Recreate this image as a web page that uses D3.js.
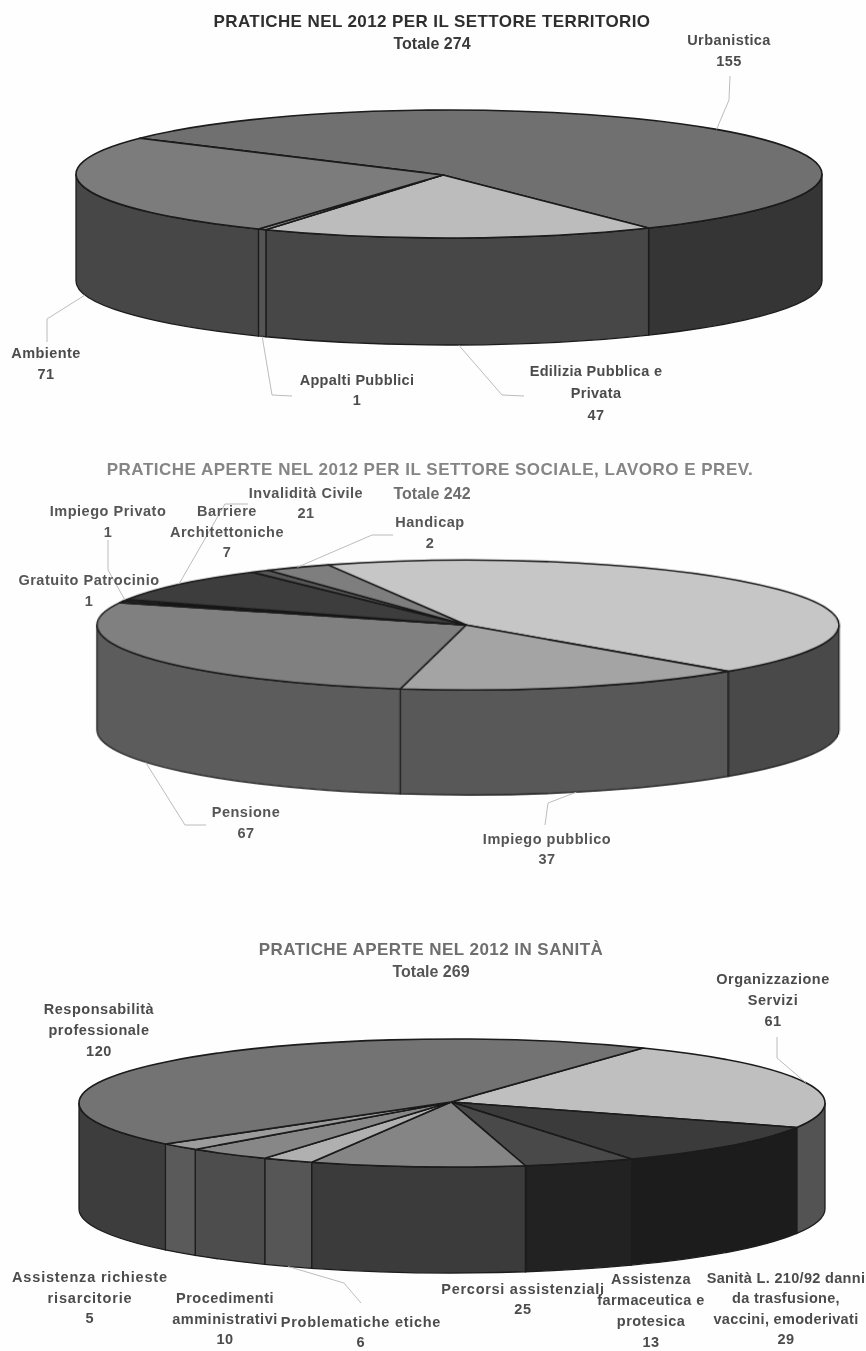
<!DOCTYPE html>
<html><head><meta charset="utf-8">
<script src="https://cdn.jsdelivr.net/npm/d3@7"></script>
<style>html,body{margin:0;padding:0;background:#fefefe}svg{display:block}
text{font-family:"Liberation Sans",Arial,sans-serif;font-weight:bold}</style>
</head><body><div id="c"></div>
<script>
// ---- data ----
const territorioNames  = ["Urbanistica","Edilizia Pubblica e Privata","Appalti Pubblici","Ambiente"];
const territorioValues = [155,47,1,71];
const socialeNames  = ["(senza etichetta)","Impiego pubblico","Pensione","Gratuito Patrocinio","Impiego Privato","Invalidità Civile","Handicap","Barriere Architettoniche"];
const socialeValues = [106,37,67,1,1,21,2,7];
const sanitaNames  = ["Organizzazione Servizi","Sanità L. 210/92 danni da trasfusione, vaccini, emoderivati","Assistenza farmaceutica e protesica","Percorsi assistenziali","Problematiche etiche","Procedimenti amministrativi","Assistenza richieste risarcitorie","Responsabilità professionale"];
const sanitaValues = [61,29,13,25,6,10,5,120];

// ---- styles ----
const territorioTop  = ["#707070","#bcbcbc","#8a8a8a","#7b7b7b"];
const territorioSide = ["#343434","#464646","#555555","#474747"];
const socialeTop  = ["#c6c6c6","#a4a4a4","#808080","#9a9a9a","#5c5c5c","#3c3c3c","#565656","#7e7e7e"];
const socialeSide = ["#4a4a4a","#585858","#5c5c5c","#555555","#444444","#333333","#333333","#444444"];
const sanitaTop  = ["#bfbfbf","#3a3a3a","#4a4a4a","#858585","#b0b0b0","#878787","#9c9c9c","#737373"];
const sanitaSide = ["#525252","#1e1e1e","#232323","#3a3a3a","#575757","#4e4e4e","#5a5a5a","#3e3e3e"];

// ---- layout ----
const charts = [
 {values:territorioValues,top:territorioTop,side:territorioSide,cx:449,cy:174,rx:373,ry:64,depth:107,start:-56,apexDx:-6,apexDy:1},
 {values:socialeValues,top:socialeTop,side:socialeSide,cx:468,cy:625,rx:371,ry:65,depth:105,start:-22.2,apexDx:-2,apexDy:0},
 {values:sanitaValues,top:sanitaTop,side:sanitaSide,cx:452,cy:1103,rx:373,ry:64,depth:106,start:30.8,apexDx:-1,apexDy:-1}
];
// [text lines, centre x, first line y, line height, colour, size, spacing]
const A="#4c4c4c", B="#555555";
const texts = [
 [["PRATICHE NEL 2012 PER IL SETTORE TERRITORIO"],432,23,0,"#2e2e2e",17,.4],
 [["Totale 274"],432,45,0,"#3a3a3a",16,0],
 [["Urbanistica","155"],729,41,21,A,14.5,.42],
 [["Ambiente","71"],46,354,21,A,14.5,.42],
 [["Appalti Pubblici","1"],357,381,20,A,14.5,.32],
 [["Edilizia Pubblica e","Privata","47"],596,372,22,A,14.5,.32],
 [["PRATICHE APERTE NEL 2012 PER IL SETTORE SOCIALE, LAVORO E PREV."],430,471,0,"#858585",17,.5],
 [["Totale 242"],432,495,0,"#6e6e6e",16,0],
 [["Invalidità Civile","21"],306,494,20,B,14.5,.52],
 [["Impiego Privato","1"],108,512,21,B,14.5,.52],
 [["Barriere","Architettoniche","7"],227,512,20.5,B,14.5,.52],
 [["Handicap","2"],430,523,21,B,14.5,.52],
 [["Gratuito Patrocinio","1"],89,581,21,B,14.5,.52],
 [["Pensione","67"],246,813,21,B,14.5,.52],
 [["Impiego pubblico","37"],547,840,20,B,14.5,.52],
 [["PRATICHE APERTE NEL 2012 IN SANITÀ"],431,951,0,"#6e6e6e",17,.45],
 [["Totale 269"],431,973,0,B,16,0],
 [["Responsabilità","professionale","120"],99,1010,21,A,14.5,.52],
 [["Organizzazione","Servizi","61"],773,980,21,A,14.5,.52],
 [["Assistenza richieste","risarcitorie","5"],90,1278,20.5,A,14.5,.82],
 [["Procedimenti","amministrativi","10"],225,1299,20.5,A,14.5,.52],
 [["Problematiche etiche","6"],361,1323,20,A,14.5,.72],
 [["Percorsi assistenziali","25"],523,1290,20,A,14.5,.72],
 [["Assistenza","farmaceutica e","protesica","13"],651,1280,21,A,14.5,.42],
 [["Sanità L. 210/92 danni","da trasfusione,","vaccini, emoderivati","29"],786,1279,20.3,A,14.5,.32]
];
// leader: chart, slice, rim (true = lower rim), elbow points
const leaders = [
 [0,0,false,[[729,100],[730,76]]],
 [0,3,true,[[47,319],[47,342]]],
 [0,2,true,[[272,395],[292,396]]],
 [0,1,true,[[502,395],[524,396]]],
 [1,4,false,[[108,570],[108,540]]],
 [1,5,false,[[225,504],[248,504]]],
 [1,7,false,[[372,535],[393,535]]],
 [1,2,true,[[185,825],[206,825]]],
 [1,1,true,[[548,803],[545,825]]],
 [2,0,false,[[777,1058],[777,1037]]],
 [2,4,true,[[344,1283],[361,1303]]]
];

const svg = d3.select("#c").append("svg").attr("width",866).attr("height",1351);
const defs = svg.append("defs");
defs.append("filter").attr("id","soft").attr("x",0).attr("y",0).attr("width",1).attr("height",1)
  .append("feGaussianBlur").attr("stdDeviation",0.35);
svg.append("rect").attr("width",866).attr("height",1351).attr("fill","#fefefe");
const root = svg.append("g").attr("filter","url(#soft)");
const rad = d => d*Math.PI/180;

charts.forEach(ch => {
  ch.arcs = d3.pie().sort(null).startAngle(rad(ch.start)).endAngle(rad(ch.start+360))(ch.values);
  const k = ch.ry/ch.rx, dyScaled = ch.depth/k;
  const g = root.append("g").attr("transform",`translate(${ch.cx},${ch.cy}) scale(1,${k})`);
  const L = -Math.PI/2; // d3.path angles start at 3 o'clock
  const sides = [];
  ch.arcs.forEach((a,i)=>{
    for (const off of [-2*Math.PI,0,2*Math.PI]) {     // front half = PI/2..3PI/2 from the top
      const s0=Math.max(a.startAngle,Math.PI/2+off), s1=Math.min(a.endAngle,3*Math.PI/2+off);
      if (s1>s0) sides.push({i,a0:s0,a1:s1});
    }
  });
  g.selectAll("path.side").data(sides).join("path").attr("class","side")
    .attr("d",d=>{const p=d3.path();p.arc(0,0,ch.rx,d.a0+L,d.a1+L,false);p.arc(0,dyScaled,ch.rx,d.a1+L,d.a0+L,true);p.closePath();return p.toString();})
    .attr("fill",d=>ch.side[d.i]).attr("stroke","#1c1c1c").attr("stroke-width",1.3).attr("vector-effect","non-scaling-stroke");
  g.selectAll("path.top").data(ch.arcs).join("path").attr("class","top")
    .attr("d",a=>{const p=d3.path();p.moveTo(ch.apexDx,ch.apexDy/k);p.arc(0,0,ch.rx,a.startAngle+L,a.endAngle+L,false);p.closePath();return p.toString();})
    .attr("fill",(a,i)=>ch.top[i]).attr("stroke","#1a1a1a").attr("stroke-width",1.6)
    .attr("stroke-linejoin","round").attr("vector-effect","non-scaling-stroke");
});

const line = d3.line().curve(d3.curveLinear);
leaders.forEach(([c,s,lower,pts])=>{
  const ch=charts[c], a=ch.arcs[s], m=(a.startAngle+a.endAngle)/2;
  const p0=[ch.cx+ch.rx*Math.sin(m), ch.cy-ch.ry*Math.cos(m)+(lower?ch.depth:0)];
  root.append("path").attr("d",line([p0,...pts])).attr("fill","none").attr("stroke","#b4b4b4").attr("stroke-width",0.9);
});

texts.forEach(([lines,x,y,lh,col,size,sp])=>{
  const t=root.append("text").attr("text-anchor","middle").attr("fill",col).attr("font-size",size)
    .attr("letter-spacing",sp).attr("dominant-baseline","middle");
  lines.forEach((s,i)=>t.append("tspan").attr("x",x).attr("y",y+i*lh).text(s));
});
</script></body></html>
